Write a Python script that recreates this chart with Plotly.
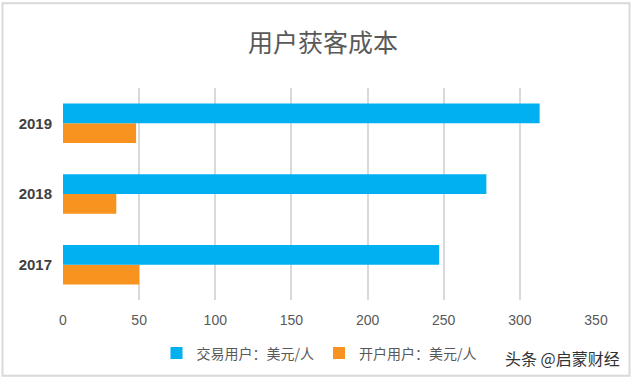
import plotly.graph_objects as go

years = ["2017", "2018", "2019"]
trade_cost = [247, 278, 313]   # 交易用户：美元/人
open_cost = [50, 35, 48]       # 开户用户：美元/人
x_ticks = [0, 50, 100, 150, 200, 250, 300, 350]

W, H = 633, 381
L, R, T, B = 63, 37, 88, 79
pw, ph = W - L - R, H - T - B

def px(x):
    return (x - L) / pw

def py(y):
    return (H - B - y) / ph

fig = go.Figure()
fig.add_trace(go.Bar(
    y=years, x=open_cost, orientation="h", name="开户用户：美元/人",
    marker=dict(color="#F7931E", line=dict(width=0)),
))
fig.add_trace(go.Bar(
    y=years, x=trade_cost, orientation="h", name="交易用户：美元/人",
    marker=dict(color="#00B0F0", line=dict(width=0)),
))

fig.update_layout(
    width=W, height=H,
    margin=dict(l=L, r=R, t=T, b=B),
    paper_bgcolor="white", plot_bgcolor="white",
    barmode="group", bargap=0.44, bargroupgap=0,
    title=dict(text="用户获客成本", x=323 / W, xanchor="center",
               y=1 - 43 / H, yanchor="middle",
               font=dict(family="Noto Sans CJK SC", size=25, color="#595959")),
    legend=dict(orientation="h", traceorder="reversed",
                x=px(319), xanchor="center", y=py(356), yanchor="middle",
                font=dict(family="Noto Sans CJK SC", size=14, color="#595959"),
                itemwidth=30, bgcolor="rgba(0,0,0,0)"),
    showlegend=True,
)
fig.update_xaxes(range=[0, 350], tickvals=x_ticks, showgrid=True,
                 gridcolor="#D9D9D9", gridwidth=1.6, zeroline=False,
                 showline=False, ticks="", ticklabelstandoff=10,
                 tickfont=dict(family="Liberation Sans", size=14, color="#595959"),
                 fixedrange=True)
fig.update_yaxes(type="category", categoryorder="array", categoryarray=years,
                 showgrid=False, zeroline=False, showline=False, ticks="",
                 ticklabelstandoff=10,
                 tickfont=dict(family="Liberation Sans", size=15, color="#404040",
                               weight="bold"),
                 fixedrange=True)

fig.add_annotation(text="头条 @启蒙财经", xref="paper", yref="paper",
                   x=px(622), xanchor="right", y=py(361), yanchor="middle",
                   showarrow=False,
                   font=dict(family="Noto Sans CJK SC", size=16, color="#333333"))

fig.add_shape(type="rect", xref="paper", yref="paper",
              x0=px(2.5), x1=px(629.5), y0=py(378.5), y1=py(2.5),
              line=dict(color="#D9D9D9", width=2), layer="below")

fig.write_html("out.html")
